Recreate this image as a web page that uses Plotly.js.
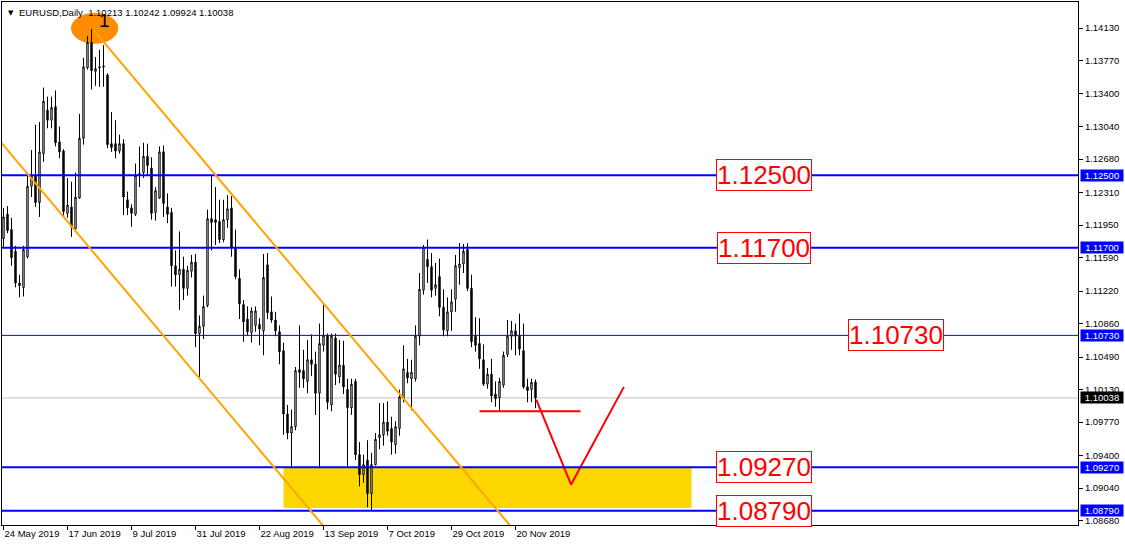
<!DOCTYPE html>
<html><head><meta charset="utf-8">
<script src="https://cdn.plot.ly/plotly-3.0.1.min.js"></script>
<style>html,body{margin:0;padding:0;background:#fff;overflow:hidden}#chart{width:1125px;height:546px}</style>
</head><body><div id="chart"></div>
<script>
// ---------- data ----------
const symbolTitle = "EURUSD,Daily";
const headerOHLC = ["1.10213", "1.10242", "1.09924", "1.10038"];

const dateTickIndex = [0, 16, 32, 48, 64, 80, 96, 112, 128];
const dateTickLabels = ["24 May 2019", "17 Jun 2019", "9 Jul 2019", "31 Jul 2019", "22 Aug 2019",
                        "13 Sep 2019", "7 Oct 2019", "29 Oct 2019", "20 Nov 2019"];

const priceTicks = [1.14130, 1.13770, 1.13400, 1.13040, 1.12680, 1.12310, 1.11950, 1.11590,
                    1.11220, 1.10860, 1.10490, 1.10130, 1.09770, 1.09400, 1.09040, 1.08680];

const open = [
 1.1180,1.1207,1.1190,1.1166,1.1131,1.1126,1.1160,1.1238,1.1250,1.1220,
 1.1274,1.1322,1.1311,1.1326,1.1287,1.1277,1.1208,1.1215,1.1191,1.1225,
 1.1291,1.1369,1.1397,1.1365,1.1369,1.1371,1.1361,1.1285,1.1285,1.1277,
 1.1285,1.1223,1.1214,1.1207,1.1251,1.1253,1.1271,1.1258,1.1209,1.1225,
 1.1276,1.1215,1.1209,1.1150,1.1140,1.1146,1.1125,1.1144,1.1154,1.1075,
 1.1083,1.1106,1.1202,1.1201,1.1199,1.1179,1.1201,1.1214,1.1169,1.1136,
 1.1107,1.1091,1.1076,1.1084,1.1085,1.1078,1.1151,1.1099,1.1090,1.1077,
 1.1056,1.0986,1.0965,1.0972,1.1035,1.1034,1.1022,1.1046,1.1041,1.1009,
 1.1062,1.1073,1.0996,1.1070,1.1027,1.1040,1.1013,1.0993,1.1022,1.0941,
 1.0919,1.0935,1.0898,1.0930,1.0960,1.0963,1.0977,1.0970,1.0952,1.0970,
 1.1003,1.1032,1.1025,1.1025,1.1072,1.1123,1.1157,1.1149,1.1125,1.1138,
 1.1104,1.1078,1.1099,1.1113,1.1148,1.1152,1.1168,1.1125,1.1072,1.1064,
 1.1046,1.1019,1.1030,1.1008,1.1004,1.1018,1.1052,1.1072,1.1078,1.1072,
 1.1056,1.1016,1.1013,1.10213];
const high = [
 1.1214,1.1216,1.1203,1.1172,1.1140,1.1172,1.1250,1.1278,1.1306,1.1309,
 1.1347,1.1337,1.1337,1.1344,1.1304,1.1279,1.1247,1.1243,1.1253,1.1318,
 1.1380,1.1404,1.1412,1.1381,1.1389,1.1394,1.1363,1.1320,1.1311,1.1295,
 1.1290,1.1232,1.1218,1.1263,1.1282,1.1286,1.1285,1.1270,1.1237,1.1282,
 1.1283,1.1230,1.1214,1.1167,1.1188,1.1160,1.1150,1.1162,1.1163,1.1095,
 1.1117,1.1212,1.1250,1.1237,1.1223,1.1223,1.1228,1.1227,1.1190,1.1146,
 1.1112,1.1105,1.1104,1.1105,1.1092,1.1163,1.1164,1.1116,1.1099,1.1084,
 1.1065,1.0996,1.0991,1.1038,1.1084,1.1057,1.1068,1.1074,1.1055,1.1086,
 1.1109,1.1075,1.1075,1.1075,1.1068,1.1067,1.1025,1.1025,1.1025,1.0955,
 1.0941,1.0957,1.0943,1.0965,1.0998,1.0998,1.1000,1.0983,1.0978,1.1013,
 1.1062,1.1047,1.1046,1.1084,1.1142,1.1173,1.1179,1.1164,1.1153,1.1158,
 1.1124,1.1115,1.1124,1.1162,1.1175,1.1174,1.1175,1.1140,1.1093,1.1092,
 1.1063,1.1037,1.1047,1.1022,1.1026,1.1055,1.1090,1.1089,1.1086,1.1097,
 1.1086,1.1025,1.1025,1.10242];
const low = [
 1.1171,1.1186,1.1150,1.1126,1.1115,1.1116,1.1158,1.1226,1.1215,1.1204,
 1.1265,1.1302,1.1302,1.1282,1.1269,1.1204,1.1203,1.1182,1.1190,1.1224,
 1.1284,1.1367,1.1345,1.1349,1.1348,1.1348,1.1280,1.1276,1.1269,1.1274,
 1.1206,1.1206,1.1193,1.1205,1.1237,1.1247,1.1250,1.1201,1.1200,1.1224,
 1.1204,1.1197,1.1127,1.1127,1.1101,1.1112,1.1117,1.1137,1.1060,1.1027,
 1.1069,1.1104,1.1167,1.1173,1.1175,1.1176,1.1192,1.1160,1.1135,1.1091,
 1.1066,1.1073,1.1065,1.1077,1.1062,1.1051,1.1091,1.1087,1.1072,1.1041,
 1.0963,1.0958,1.0926,1.0968,1.1015,1.1015,1.1009,1.1028,1.0985,1.0927,
 1.1055,1.0991,1.0989,1.1018,1.1020,1.1008,1.0927,1.0985,1.0935,1.0906,
 1.0910,1.0883,1.0879,1.0929,1.0947,1.0951,1.0962,1.0941,1.0942,1.0962,
 1.0999,1.1020,1.0990,1.1022,1.1062,1.1118,1.1131,1.1115,1.1117,1.1094,
 1.1072,1.1072,1.1078,1.1099,1.1129,1.1142,1.1122,1.1060,1.1055,1.1036,
 1.1017,1.1014,1.0999,1.0994,1.0989,1.1015,1.1049,1.1057,1.1051,1.1051,
 1.1014,1.0999,1.0999,1.09924];
const close = [
 1.1204,1.1189,1.1159,1.1131,1.1128,1.1168,1.1238,1.1249,1.1220,1.1276,
 1.1332,1.1311,1.1325,1.1286,1.1276,1.1210,1.1217,1.1193,1.1226,1.1291,
 1.1370,1.1397,1.1366,1.1368,1.1370,1.1370,1.1284,1.1281,1.1277,1.1285,
 1.1226,1.1214,1.1208,1.1250,1.1252,1.1271,1.1261,1.1208,1.1233,1.1276,
 1.1219,1.1207,1.1150,1.1140,1.1146,1.1125,1.1145,1.1154,1.1075,1.1083,
 1.1105,1.1202,1.1198,1.1198,1.1179,1.1201,1.1213,1.1170,1.1138,1.1108,
 1.1088,1.1077,1.1100,1.1100,1.1080,1.1137,1.1098,1.1090,1.1078,1.1055,
 1.0986,1.0965,1.0972,1.1034,1.1032,1.1025,1.1046,1.1041,1.1009,1.1064,
 1.1073,1.0999,1.1072,1.1030,1.1040,1.1016,1.0993,1.1019,1.0941,1.0919,
 1.0930,1.0898,1.0930,1.0958,1.0963,1.0977,1.0967,1.0955,1.0972,1.1005,
 1.1036,1.1026,1.1032,1.1072,1.1124,1.1170,1.1149,1.1123,1.1129,1.1104,
 1.1079,1.1099,1.1110,1.1150,1.1152,1.1166,1.1125,1.1066,1.1062,1.1047,
 1.1019,1.1030,1.1006,1.1003,1.1022,1.1051,1.1072,1.1078,1.1072,1.1058,
 1.1016,1.1012,1.1021,1.10038];

const levelPrices = [1.12500, 1.11700, 1.10730, 1.09270, 1.08790];
const levelLabels = ["1.12500", "1.11700", "1.10730", "1.09270", "1.08790"];
const levelLabelBar = [190, 190, 223, 190, 190];
const lastPrice = 1.10038;

const zoneBars = [70, 172];
const zonePrices = [1.0927, 1.0882];

const channelUpperBar = [22.5, 130];
const channelUpperPrice = [1.1411, 1.08450];
const channelLowerBar = [-1, 100];
const channelLowerPrice = [1.12885, 1.07567];

const supportBars = [119, 144.25];
const supportPrice = 1.0989;
const scenarioBars = [133.2, 141.9, 155.1];
const scenarioPrices = [1.1002, 1.0908, 1.1016];

const markerBars = [17, 28.6];
const markerPrices = [1.13961, 1.14293];
const markerLabel = "1";
const markerLabelBar = 25.2;
const markerLabelPrice = 1.14215;

// ---------- drawing ----------
const barIndex = open.map((_, i) => i);
const FONT = "Liberation Sans, Arial, sans-serif";

const traces = [
  {
    type: "candlestick", x: barIndex, open: open, high: high, low: low, close: close,
    increasing: {line: {color: "#000000", width: 1}, fillcolor: "#ffffff"},
    decreasing: {line: {color: "#000000", width: 1}, fillcolor: "#000000"},
    whiskerwidth: 0, hoverinfo: "skip", showlegend: false
  },
  {
    type: "scatter", mode: "lines", x: scenarioBars, y: scenarioPrices,
    line: {color: "#ff0000", width: 2}, hoverinfo: "skip", showlegend: false
  }
];

const shapes = [];
shapes.push({type: "rect", xref: "x", yref: "y", x0: zoneBars[0], x1: zoneBars[1],
  y0: zonePrices[1], y1: zonePrices[0], fillcolor: "#ffd700", line: {width: 0}, layer: "below"});
shapes.push({type: "circle", xref: "x", yref: "y", x0: markerBars[0], x1: markerBars[1],
  y0: markerPrices[0], y1: markerPrices[1], fillcolor: "#ff8c00", line: {color: "#ff8c00", width: 1}, layer: "below"});
shapes.push({type: "line", xref: "paper", yref: "y", x0: 0, x1: 1, y0: lastPrice, y1: lastPrice,
  line: {color: "#c0c0c0", width: 1}, layer: "below"});
levelPrices.forEach((p, i) => {
  shapes.push({type: "line", xref: "paper", yref: "y", x0: 0, x1: 1, y0: p, y1: p,
    line: {color: "#0000ff", width: i === 2 ? 1 : 2}, layer: "above"});
});
shapes.push({type: "line", xref: "x", yref: "y", x0: channelUpperBar[0], x1: channelUpperBar[1],
  y0: channelUpperPrice[0], y1: channelUpperPrice[1], line: {color: "#ffa500", width: 2}, layer: "above"});
shapes.push({type: "line", xref: "x", yref: "y", x0: channelLowerBar[0], x1: channelLowerBar[1],
  y0: channelLowerPrice[0], y1: channelLowerPrice[1], line: {color: "#ffa500", width: 2}, layer: "above"});
shapes.push({type: "line", xref: "x", yref: "y", x0: supportBars[0], x1: supportBars[1],
  y0: supportPrice, y1: supportPrice, line: {color: "#ff0000", width: 2}, layer: "above"});

const annotations = [];
annotations.push({xref: "paper", yref: "paper", x: 0, y: 1, xanchor: "left", yanchor: "top",
  xshift: 4, yshift: -5, text: "▼", showarrow: false, font: {family: "DejaVu Sans", size: 7, color: "#000"}});
annotations.push({xref: "paper", yref: "paper", x: 0, y: 1, xanchor: "left", yanchor: "top",
  xshift: 15, yshift: -3, text: symbolTitle + "  " + headerOHLC.join(" "), showarrow: false,
  font: {family: FONT, size: 9.5, color: "#000"}});
annotations.push({xref: "x", yref: "y", x: markerLabelBar, y: markerLabelPrice, text: markerLabel,
  showarrow: false, font: {family: FONT, size: 19, color: "#000"}});
levelPrices.forEach((p, i) => {
  annotations.push({xref: "x", yref: "y", x: levelLabelBar[i], y: p, text: levelLabels[i],
    showarrow: false, font: {family: FONT, size: 26, color: "#ff0000"},
    bgcolor: "#ffffff", bordercolor: "#ff0000", borderwidth: 1, borderpad: 0});
  annotations.push({xref: "paper", yref: "y", x: 1, y: p, xanchor: "left", xshift: 2,
    text: levelLabels[i], showarrow: false, width: 42, align: "center",
    font: {family: FONT, size: 9.5, color: "#ffffff"}, bgcolor: "#0000ff", borderpad: 0});
});
annotations.push({xref: "paper", yref: "y", x: 1, y: lastPrice, xanchor: "left", xshift: 2,
  text: lastPrice.toFixed(5), showarrow: false, width: 42, align: "center",
  font: {family: FONT, size: 9.5, color: "#ffffff"}, bgcolor: "#000000", borderpad: 0});

const layout = {
  width: 1125, height: 546,
  margin: {l: 2, r: 47, t: 2, b: 21, pad: 0},
  paper_bgcolor: "#ffffff", plot_bgcolor: "#ffffff",
  showlegend: false, dragmode: false,
  boxgap: 0.5,
  xaxis: {
    range: [-0.375, 268.625], showgrid: false, zeroline: false,
    showline: true, linecolor: "#000", linewidth: 1, mirror: true,
    ticks: "outside", ticklen: 4, tickcolor: "#000",
    tickvals: dateTickIndex, ticktext: dateTickLabels, ticklabelposition: "outside right",
    tickfont: {family: FONT, size: 9.5, color: "#000"},
    rangeslider: {visible: false}, fixedrange: true
  },
  yaxis: {
    side: "right", range: [1.086322, 1.144176], showgrid: false, zeroline: false,
    showline: true, linecolor: "#000", linewidth: 1, mirror: true,
    ticks: "outside", ticklen: 4, tickcolor: "#000",
    tickvals: priceTicks, tickformat: ".5f",
    tickfont: {family: FONT, size: 9.5, color: "#000"}, fixedrange: true
  },
  shapes: shapes,
  annotations: annotations
};

Plotly.newPlot("chart", traces, layout, {displayModeBar: false, staticPlot: true});
</script>
</body></html>
